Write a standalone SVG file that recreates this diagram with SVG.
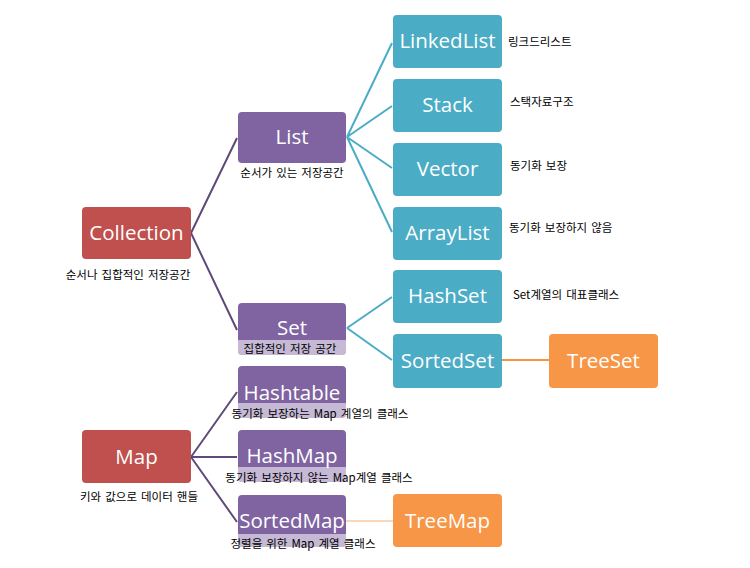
<svg xmlns="http://www.w3.org/2000/svg" width="750" height="568" viewBox="0 0 750 568">
<style>
.box{stroke:none}
.red{fill:#C0504D}
.pur{fill:#8064A2}
.teal{fill:#4BACC6}
.org{fill:#F79646}
.strip{fill:#FFFFFF;fill-opacity:0.55}
.t{font-family:"Open Sans","Liberation Sans",sans-serif;font-size:20.5px;fill:#FFFFFF;text-anchor:middle}
.k{font-family:"Noto Sans CJK KR","Noto Sans",sans-serif;font-size:11.5px;word-spacing:1.5px;fill:#000000}
.c{text-anchor:middle}
.lp{stroke:#5F497A;stroke-width:2;fill:none}
.lt{stroke:#4BACC6;stroke-width:2;fill:none}
.lo{stroke:#F79646;stroke-width:2;fill:none}
.lo2{stroke:#FAC8A0;stroke-width:1.5;fill:none}
</style>
<rect width="750" height="568" fill="#FFFFFF"/>
<g id="connectors">
<path class="lp" d="M191,233 L237,138 M191,233 L237,330"/>
<path class="lt" d="M347,137 L392,43 M347,137 L392,106 M347,137 L392,168 M347,137 L392,232"/>
<path class="lt" d="M347,328 L392,297 M347,328 L392,360"/>
<path class="lo" d="M502,360 L549,360"/>
<path class="lp" d="M191,457 L237,392 M191,457 L237,457 M191,457 L237,522"/>
<path class="lo2" d="M346,521 L393,521"/>
</g>
<g id="collection">
<rect class="box red" x="82" y="207" width="109" height="52" rx="4"/>
<text class="t" x="136.5" y="240">Collection</text>
<text class="k c" x="128" y="279">순서나 집합적인 저장공간</text>
</g>
<g id="list">
<rect class="box pur" x="238" y="112" width="108" height="51" rx="4"/>
<text class="t" x="292" y="144">List</text>
<text class="k c" x="292" y="177">순서가 있는 저장공간</text>
</g>
<g id="set">
<rect class="box pur" x="238" y="303" width="108" height="52" rx="4"/>
<path class="strip" d="M238,340 H346 V351 a4,4 0 0 1 -4,4 H242 a4,4 0 0 1 -4,-4 Z"/>
<text class="t" x="292" y="335">Set</text>
<text class="k c" x="290" y="353">집합적인 저장 공간</text>
</g>
<g id="linkedlist">
<rect class="box teal" x="393" y="15" width="109" height="53" rx="4"/>
<text class="t" x="447.5" y="48">LinkedList</text>
<text class="k" x="508" y="46">링크드리스트</text>
</g>
<g id="stack">
<rect class="box teal" x="393" y="79" width="109" height="53" rx="4"/>
<text class="t" x="447.5" y="112">Stack</text>
<text class="k" x="510" y="106">스택자료구조</text>
</g>
<g id="vector">
<rect class="box teal" x="393" y="143" width="109" height="53" rx="4"/>
<text class="t" x="447.5" y="176">Vector</text>
<text class="k" x="510" y="170">동기화 보장</text>
</g>
<g id="arraylist">
<rect class="box teal" x="393" y="207" width="109" height="53" rx="4"/>
<text class="t" x="447.5" y="240">ArrayList</text>
<text class="k" x="509" y="232">동기화 보장하지 않음</text>
</g>
<g id="hashset">
<rect class="box teal" x="393" y="270" width="109" height="53" rx="4"/>
<text class="t" x="447.5" y="303">HashSet</text>
<text class="k" x="513" y="299">Set계열의 대표클래스</text>
</g>
<g id="sortedset">
<rect class="box teal" x="393" y="334" width="109" height="54" rx="4"/>
<text class="t" x="447.5" y="368">SortedSet</text>
</g>
<g id="treeset">
<rect class="box org" x="549" y="334" width="109" height="54" rx="4"/>
<text class="t" x="603.5" y="368">TreeSet</text>
</g>
<g id="map">
<rect class="box red" x="82" y="430" width="109" height="53" rx="4"/>
<text class="t" x="136.5" y="464">Map</text>
<text class="k c" x="139" y="501">키와 값으로 데이터 핸들</text>
</g>
<g id="hashtable">
<rect class="box pur" x="238" y="366" width="108" height="52" rx="4"/>
<path class="strip" d="M238,403 H346 V414 a4,4 0 0 1 -4,4 H242 a4,4 0 0 1 -4,-4 Z"/>
<text class="t" x="292" y="400">Hashtable</text>
<text class="k c" x="320" y="418">동기화 보장하는 Map 계열의 클래스</text>
</g>
<g id="hashmap">
<rect class="box pur" x="238" y="430" width="108" height="52" rx="4"/>
<path class="strip" d="M238,467 H346 V478 a4,4 0 0 1 -4,4 H242 a4,4 0 0 1 -4,-4 Z"/>
<text class="t" x="292" y="463">HashMap</text>
<text class="k c" x="319" y="482">동기화 보장하지 않는 Map계열 클래스</text>
</g>
<g id="sortedmap">
<rect class="box pur" x="238" y="495" width="108" height="52" rx="4"/>
<path class="strip" d="M238,534 H346 V543 a4,4 0 0 1 -4,4 H242 a4,4 0 0 1 -4,-4 Z"/>
<text class="t" x="292" y="528">SortedMap</text>
<text class="k c" x="303" y="548">정렬을 위한 Map 계열 클래스</text>
</g>
<g id="treemap">
<rect class="box org" x="393" y="494" width="109" height="53" rx="4"/>
<text class="t" x="447.5" y="528">TreeMap</text>
</g>
</svg>
